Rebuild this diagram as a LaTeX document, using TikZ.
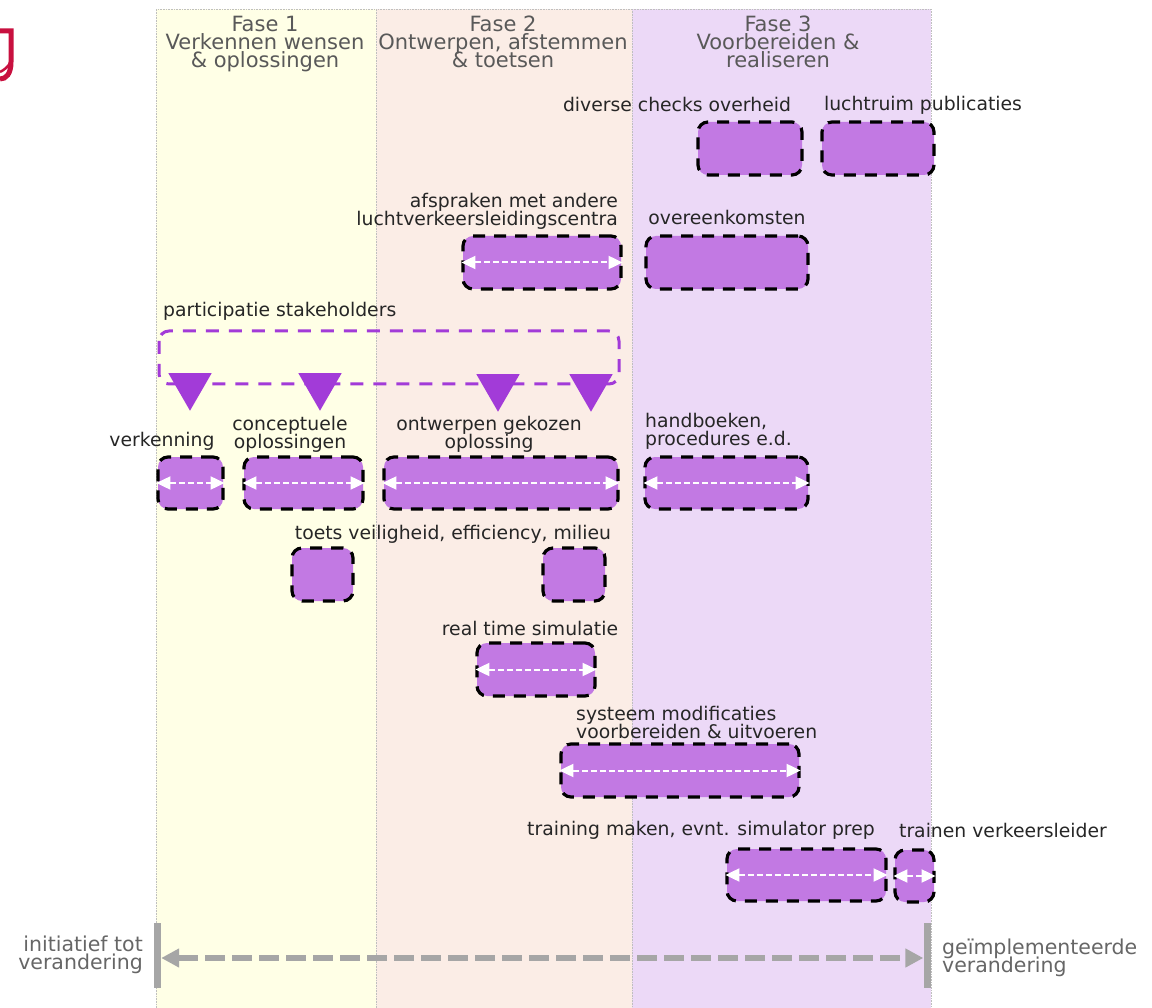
\documentclass[tikz,border=0pt]{standalone}
\usepackage{fontspec}
\usepackage{xcolor}
\setmainfont{DejaVu Sans}
\usetikzlibrary{arrows.meta,shapes.geometric}
\lineskiplimit=-20pt
\definecolor{fasegeel}{HTML}{FFFFE6}
\definecolor{faseroze}{HTML}{FBEDE6}
\definecolor{faselila}{HTML}{ECD9F7}
\definecolor{taaklila}{HTML}{C279E3}
\definecolor{driehoek}{HTML}{A23BD8}
\definecolor{balkgrijs}{HTML}{A6A6A6}
\definecolor{logorood}{HTML}{C8103F}
\tikzset{
  fase/.style={draw=black!25, densely dotted, line width=0.6pt, anchor=north west, inner sep=0pt},
  fasetekst/.style={text=black!65, align=center, font=\fontsize{21}{18}\selectfont, inner sep=0pt, anchor=north},
  taak/.style={fill=taaklila, draw=black, line width=3.2pt, dash pattern=on 12pt off 9pt, rounded corners=10pt, inner sep=0pt},
  label/.style={text=black!85, align=center, font=\fontsize{18.8}{18}\selectfont, inner sep=0pt},
  pijl/.style={white, line width=2pt, dash pattern=on 6pt off 3pt, {Triangle[width=13pt,length=14pt,sep=0pt]}-{Triangle[width=13pt,length=14pt,sep=0pt]}},
  trigger/.style={regular polygon, regular polygon sides=3, shape border rotate=180, fill=driehoek, inner sep=0pt, minimum size=50pt},
  balk/.style={fill=balkgrijs, minimum width=7pt, minimum height=65pt, inner sep=0pt},
  eindtekst/.style={text=black!60, font=\fontsize{20.5}{17.5}\selectfont, inner sep=0pt}
}
\begin{document}
\begin{tikzpicture}[x=1pt,y=-1pt]
\useasboundingbox (0,0) rectangle (1152,1008);
% fasen
\node[fase, fill=fasegeel, minimum width=220pt, minimum height=999pt] (fase1) at (156,9) {};
\node[fase, fill=faseroze, minimum width=256pt, minimum height=999pt] (fase2) at (376,9) {};
\node[fase, fill=faselila, minimum width=299pt, minimum height=999pt] (fase3) at (632,9) {};
\node[fasetekst] (tekst1) at (265,16) {Fase 1\\Verkennen wensen\\\& oplossingen};
\node[fasetekst] (tekst2) at (503,16) {Fase 2\\Ontwerpen, afstemmen\\\& toetsen};
\node[fasetekst] (tekst3) at (778,16) {Fase 3\\Voorbereiden \&\\realiseren};
% logo
\draw[logorood, line width=5pt] (0,31) -- (11,31) -- (11,62) .. controls (11,74) and (6,79) .. (0,79);
\draw[logorood, line width=2.5pt] (0,72) .. controls (4,70) and (8,67) .. (10,63);
% stakeholders
\draw[driehoek, line width=3pt, dash pattern=on 13pt off 10pt, rounded corners=10pt] (159,331) rectangle (619,384);
\node[label, anchor=west] (stakeholders) at (163,311) {participatie stakeholders};
\node[trigger, anchor=north] (trigger1) at (190,373) {};
\node[trigger, anchor=north] (trigger2) at (320,373) {};
\node[trigger, anchor=north] (trigger3) at (498,374) {};
\node[trigger, anchor=north] (trigger4) at (591,374) {};
% taken
\node[taak, minimum width=104pt, minimum height=53pt] (checks) at (750,148.5) {};
\node[taak, minimum width=112pt, minimum height=53pt] (publicaties) at (878,148.5) {};
\node[taak, minimum width=158pt, minimum height=53pt] (afspraken) at (542,262.5) {};
\node[taak, minimum width=162pt, minimum height=53pt] (overeenkomsten) at (727,262.5) {};
\node[taak, minimum width=65pt, minimum height=52pt] (verkenning) at (190.5,483) {};
\node[taak, minimum width=119pt, minimum height=52pt] (conceptueel) at (303.5,483) {};
\node[taak, minimum width=234pt, minimum height=52pt] (ontwerpen) at (501,483) {};
\node[taak, minimum width=163pt, minimum height=52pt] (handboeken) at (726.5,483) {};
\node[taak, minimum width=61pt, minimum height=53pt] (toets1) at (322.5,574.5) {};
\node[taak, minimum width=62pt, minimum height=53pt] (toets2) at (574,574.5) {};
\node[taak, minimum width=118pt, minimum height=53pt] (simulatie) at (536,669.5) {};
\node[taak, minimum width=238pt, minimum height=53pt] (systeem) at (680,770.5) {};
\node[taak, minimum width=159pt, minimum height=52pt] (maken) at (806.5,875) {};
\node[taak, minimum width=39pt, minimum height=52pt] (trainen) at (914.5,876) {};
% pijlen
\foreach \taaknaam in {afspraken,verkenning,conceptueel,ontwerpen,handboeken,simulatie,systeem,maken,trainen}
  \draw[pijl] (\taaknaam.west) -- (\taaknaam.east);
% labels
\node[label] (lchecks) at (677,104) {diverse checks overheid};
\node[label] (lpublicaties) at (923,105) {luchtruim publicaties};
\node[label, align=right, anchor=east] (lafspraken) at (618,211) {afspraken met andere\\luchtverkeersleidingscentra};
\node[label] (lovereenkomsten) at (727,217) {overeenkomsten};
\node[label] (lverkenning) at (162,441) {verkenning};
\node[label] (lconceptueel) at (290,434) {conceptuele\\oplossingen};
\node[label] (lontwerpen) at (489,434) {ontwerpen gekozen\\oplossing};
\node[label, align=left, anchor=west] (lhandboeken) at (645,431) {handboeken,\\procedures e.d.};
\node[label] (ltoets) at (453,534) {toets veiligheid, efficiency, milieu};
\node[label] (lsimulatie) at (530,628) {real time simulatie};
\node[label, align=left, anchor=west] (lsysteem) at (576,722) {systeem modificaties\\voorbereiden \& uitvoeren};
\node[label] (lmaken) at (701,830) {training maken, evnt. simulator prep};
\node[label] (ltrainen) at (1003,830) {trainen verkeersleider};
% doorlooptijd
\node[balk] (start) at (157.5,955.5) {};
\node[balk] (eind) at (927,955.5) {};
\draw[balkgrijs, line width=6.5pt, dash pattern=on 20pt off 7pt, {Triangle[width=18pt,length=18pt,sep=0pt]}-{Triangle[width=18pt,length=18pt,sep=0pt]}] ([yshift=-2.5pt]start.east) -- ([yshift=-2.5pt]eind.west);
\node[eindtekst, align=right, anchor=east] (links) at (143,955) {initiatief tot\\verandering};
\node[eindtekst, align=left, anchor=west] (rechts) at (942,958) {geïmplementeerde\\verandering};
\end{tikzpicture}
\end{document}
